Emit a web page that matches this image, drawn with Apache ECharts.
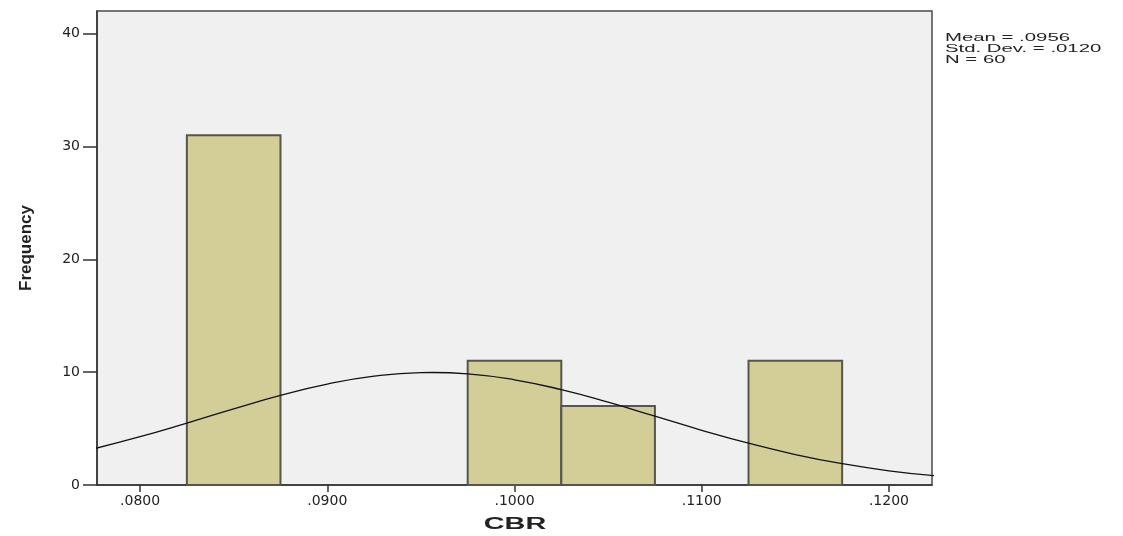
<!DOCTYPE html>
<html>
<head>
    <meta charset="utf-8">
    <title>CBR histogram</title>
    <script src="https://cdn.jsdelivr.net/npm/echarts@6/dist/echarts.min.js"></script>
    <style>
        html, body { height: 100%; margin: 0; padding: 0; background: #fff; }
    </style>
</head>
<body>
<div id="chart-box" style="width:1123px; height:536px;"></div>
<script type="text/javascript">
    // histogram bins (start, end) and counts
    const binStart = [0.0825, 0.0975, 0.1025, 0.1125];
    const binEnd   = [0.0875, 0.1025, 0.1075, 0.1175];
    const counts   = [31, 11, 7, 11];

    // normal curve
    const curveX = [0.0775, 0.0800, 0.0825, 0.0850, 0.0875, 0.0900, 0.0925, 0.0950, 0.0956, 0.0975,
                    0.1000, 0.1025, 0.1050, 0.1075, 0.1100, 0.1125, 0.1150, 0.1175, 0.1200, 0.1225];
    const curveY = [3.20, 4.28, 5.49, 6.75, 7.94, 8.94, 9.64, 9.96, 9.97, 9.85,
                    9.32, 8.45, 7.34, 6.10, 4.85, 3.70, 2.70, 1.89, 1.26, 0.81];

    const xTicks = [0.08, 0.09, 0.10, 0.11, 0.12];
    const yTicks = [0, 10, 20, 30, 40];
    const statLines = ["Mean = .0956", "Std. Dev. = .0120", "N = 60"];

    const chart = echarts.init(document.getElementById("chart-box"));

    const bins = binStart.map((s, i) => [s, binEnd[i], counts[i]]);
    const curve = curveX.map((x, i) => [x, curveY[i]]);

    const option = {
        animation: false,
        grid: {
            left: 97, right: 191, top: 11, bottom: 51,
            show: true, backgroundColor: "#f0f0f0",
            borderColor: "#4a4a4a", borderWidth: 1.5
        },
        xAxis: {
            type: "value",
            min: 0.0777, max: 0.1223,
            axisLine: { show: true, lineStyle: { color: "#333", width: 1.5 } },
            axisTick: { show: true, customValues: xTicks, length: 7, lineStyle: { color: "#333", width: 1.5 } },
            axisLabel: {
                customValues: xTicks, margin: 9,
                fontFamily: "DejaVu Sans", fontSize: 14, color: "#222",
                formatter: v => v.toFixed(4).replace(/^0/, "")
            },
            splitLine: { show: false }
        },
        yAxis: {
            type: "value",
            min: 0, max: 42,
            name: "Frequency", nameLocation: "middle", nameGap: 62, nameRotate: 90,
            nameTextStyle: { fontFamily: "Liberation Sans", fontWeight: "bold", fontSize: 17, color: "#222" },
            axisLine: { show: true, lineStyle: { color: "#333", width: 1.5 } },
            axisTick: { show: true, customValues: yTicks, length: 14, lineStyle: { color: "#333", width: 1.5 } },
            axisLabel: { customValues: yTicks, fontFamily: "DejaVu Sans", fontSize: 14, color: "#222", margin: 17 },
            splitLine: { show: false }
        },
        graphic: [
            {
                type: "text", x: 945, y: 32.5, scaleX: 1.85,
                style: {
                    text: statLines.join("\n"), x: 0, y: 0,
                    font: "11px 'Liberation Sans'", lineHeight: 11, fill: "#222",
                    align: "left", verticalAlign: "top"
                }
            },
            {
                type: "text", x: 515, y: 525, scaleX: 1.8,
                style: {
                    text: "CBR", x: 0, y: 0,
                    font: "bold 16px 'Liberation Sans'", fill: "#222",
                    align: "center", verticalAlign: "middle"
                }
            }
        ],
        series: [
            {
                type: "custom",
                data: bins,
                encode: { x: [0, 1], y: 2 },
                renderItem: (params, api) => {
                    const p0 = api.coord([api.value(0), api.value(2)]);
                    const p1 = api.coord([api.value(1), 0]);
                    return {
                        type: "rect",
                        shape: { x: p0[0], y: p0[1], width: p1[0] - p0[0], height: p1[1] - p0[1] },
                        style: { fill: "#d3ce98", stroke: "#55554c", lineWidth: 2 }
                    };
                }
            },
            {
                type: "line",
                data: curve,
                smooth: true,
                symbol: "none",
                z: 5,
                lineStyle: { color: "#111", width: 1.3 }
            }
        ]
    };
    chart.setOption(option);
</script>
</body>
</html>
